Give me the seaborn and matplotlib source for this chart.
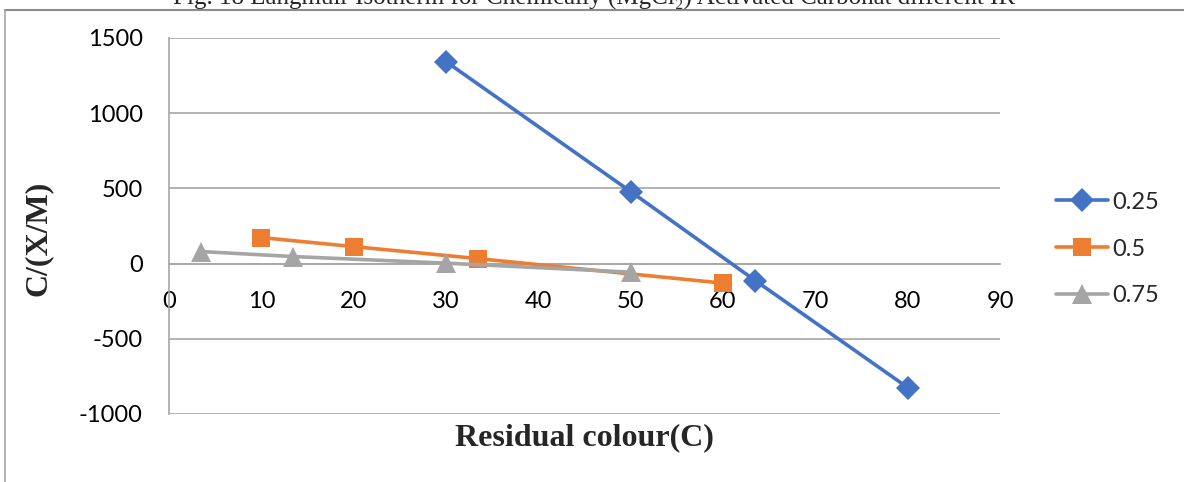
import matplotlib
matplotlib.use("Agg")
import matplotlib.pyplot as plt
from matplotlib.lines import Line2D
import seaborn as sns
import pandas as pd

# Langmuir isotherm data for three adsorbent doses
series_names = ["0.25", "0.5", "0.75"]
x_025 = [30, 50, 63.5, 80]
y_025 = [1343, 479, -113, -824]
x_05 = [10, 20, 33.5, 60]
y_05 = [173, 113, 33, -130]
x_075 = [3.5, 13.4, 30, 50]
y_075 = [80, 47, 3, -57]

x_ticks = [0, 10, 20, 30, 40, 50, 60, 70, 80, 90]
y_ticks = [-1000, -500, 0, 500, 1000, 1500]

colors = ["#4472C4", "#ED7D31", "#A5A5A5"]
markers = ["D", "s", "^"]
marker_sizes = [12, 13, 14]
line_w = 2.6

frames = []
for name, xs, ys in zip(series_names, [x_025, x_05, x_075], [y_025, y_05, y_075]):
    frames.append(pd.DataFrame({"C": xs, "CXM": ys, "dose": name, "order": range(len(xs))}))
df = pd.concat(frames, ignore_index=True)

sns.set_theme(style="white")
plt.rcParams["font.family"] = ["Lato", "DejaVu Sans"]

W, H = 1184, 482
fig = plt.figure(figsize=(W / 100, H / 100), dpi=100)
ax = fig.add_axes([169 / W, 1 - 414 / H, (1000 - 169) / W, (414 - 38) / H])

for i, name in enumerate(series_names):
    sub = df[df["dose"] == name]
    sns.lineplot(data=sub, x="C", y="CXM", sort=False, ax=ax, color=colors[i],
                 marker=markers[i], markersize=marker_sizes[i], markeredgewidth=0,
                 linewidth=line_w, label=None, legend=False, zorder=3 + i)

ax.set_xlim(0, 90)
ax.set_ylim(-1000, 1500)
ax.set_xticks(x_ticks)
ax.set_yticks(y_ticks)
ax.set_xticklabels([str(v) for v in x_ticks])
ax.set_yticklabels([str(v) for v in y_ticks])
ax.tick_params(axis="both", length=0, labelsize=17, colors="#000000")
ax.tick_params(axis="y", pad=19)
ax.tick_params(axis="x", pad=20)
ax.set_xlabel("")
ax.set_ylabel("")

ax.grid(axis="y", color="#a6a6a6", linewidth=1.2)
ax.grid(axis="x", visible=False)
ax.set_axisbelow(True)
for side in ["top", "right"]:
    ax.spines[side].set_visible(False)
ax.spines["bottom"].set_position(("data", 0))
ax.spines["bottom"].set_color("#a6a6a6")
ax.spines["bottom"].set_linewidth(1.2)
ax.spines["left"].set_color("#a6a6a6")
ax.spines["left"].set_linewidth(1.2)

# Legend on the right
handles = [Line2D([0], [0], color=c, marker=m, markersize=s, markeredgewidth=0, linewidth=line_w)
           for c, m, s in zip(colors, markers, marker_sizes)]
fig.legend(handles, series_names, loc="center left", bbox_to_anchor=(1047 / W, 1 - 249 / H),
           frameon=False, fontsize=17, handlelength=2.2, handletextpad=0.15,
           labelspacing=1.1, borderaxespad=0)

# Axis titles
serif = ["Liberation Serif", "DejaVu Serif"]
fig.text(584 / W, 1 - 438 / H, "Residual colour(C)", ha="center", va="center",
         fontsize=23, fontweight="bold", family=serif)
fig.text(38 / W, 1 - 238 / H, "C/(X/M)", ha="center", va="center", rotation=90,
         fontsize=23, fontweight="bold", family=serif)

# Caption running off the top edge
fig.text(594 / W, 1 - 5 / H,
         "Fig. 18 Langmuir Isotherm for Chemically (MgCl\u2082) Activated Carbonat different IR",
         ha="center", va="baseline", fontsize=18, family=serif)

# Chart-area frame
fig.add_artist(Line2D([4.5 / W, 1.0], [1 - 9.5 / H, 1 - 9.5 / H], transform=fig.transFigure,
                      color="#8c8c8c", linewidth=1.5))
fig.add_artist(Line2D([4.5 / W, 4.5 / W], [0, 1 - 9.5 / H], transform=fig.transFigure,
                      color="#a6a6a6", linewidth=1.2))

fig.savefig("out.png", dpi=100)
